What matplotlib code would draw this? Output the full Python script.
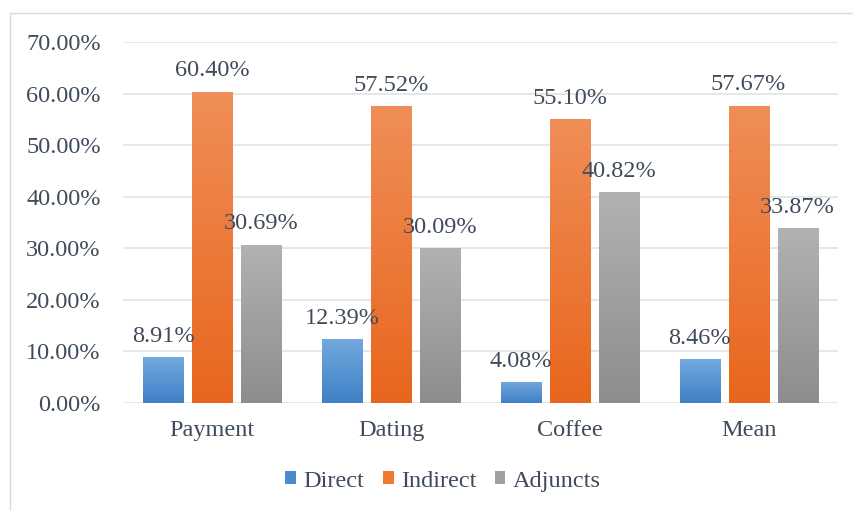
import numpy as np
import matplotlib
matplotlib.use("Agg")
import matplotlib.pyplot as plt
from matplotlib.patches import Rectangle, Patch
from matplotlib.colors import LinearSegmentedColormap

categories = ["Payment", "Dating", "Coffee", "Mean"]
series_names = ["Direct", "Indirect", "Adjuncts"]
direct = [8.91, 12.39, 4.08, 8.46]
indirect = [60.40, 57.52, 55.10, 57.67]
adjuncts = [30.69, 30.09, 40.82, 33.87]
yticks = [0, 10, 20, 30, 40, 50, 60, 70]

series = [direct, indirect, adjuncts]
top_colors = ["#72a9de", "#f08e58", "#b2b2b2"]
bot_colors = ["#3f80c6", "#e8661c", "#8d8d8d"]
legend_colors = ["#4a8ad0", "#ee7a30", "#a0a0a0"]
text_color = "#3f4a5a"
font = "Liberation Serif"
fs = 17.5

fig = plt.figure(figsize=(8.54, 5.11), dpi=100)
fig.patches.append(Rectangle((10/854, -0.01), 1.0, 1 - 13/511 + 0.01, transform=fig.transFigure,
                             fill=False, edgecolor="#d9d9d9", linewidth=1.0))
ax = fig.add_axes([123/854, 1 - 403/511, (838-123)/854, (403-42)/511])

x = np.arange(len(categories))
w = 0.224
step = 0.274
for i, (vals, tc, bc) in enumerate(zip(series, top_colors, bot_colors)):
    pos = x + (i - 1) * step
    bars = ax.bar(pos, vals, width=w, color=bc, zorder=3, linewidth=0)
    cmap = LinearSegmentedColormap.from_list("g%d" % i, [bc, tc])
    grad = np.linspace(0, 1, 256).reshape(-1, 1)
    for b, v in zip(bars, vals):
        x0 = b.get_x()
        im = ax.imshow(grad, cmap=cmap, aspect="auto", origin="lower",
                       extent=[x0, x0 + w, 0, v], zorder=4)
        im.set_clip_path(b)
        ax.annotate(f"{v:.2f}%", (b.get_x() + w / 2, v), xytext=(0, 11),
                    textcoords="offset points", ha="center", va="baseline",
                    fontsize=fs, family=font, color=text_color, zorder=5)

ax.set_xlim(-0.5, 3.5)
ax.set_ylim(0, 70)
ax.set_yticks(yticks)
ax.set_yticklabels([f"{t:.2f}%" for t in yticks])
ax.set_xticks(x)
ax.set_xticklabels(categories)
ax.tick_params(axis="both", length=0, labelsize=fs, labelcolor=text_color)
ax.tick_params(axis="y", pad=16)
ax.tick_params(axis="x", pad=12)
for lab in ax.get_xticklabels() + ax.get_yticklabels():
    lab.set_family(font)
for s in ax.spines.values():
    s.set_visible(False)
ax.yaxis.grid(True, color="#e3e3e3", linewidth=1.2, zorder=0)
ax.set_axisbelow(True)

handles = [Patch(facecolor=c, edgecolor="none") for c in legend_colors]
fig.legend(handles, series_names, loc="center", bbox_to_anchor=(443/854, 1 - 481/511),
           ncol=3, frameon=False, handlelength=0.45, handleheight=0.45,
           handletextpad=0.3, columnspacing=0.75,
           prop={"family": font, "size": fs}, labelcolor=text_color)

fig.savefig("out.png", dpi=100)
